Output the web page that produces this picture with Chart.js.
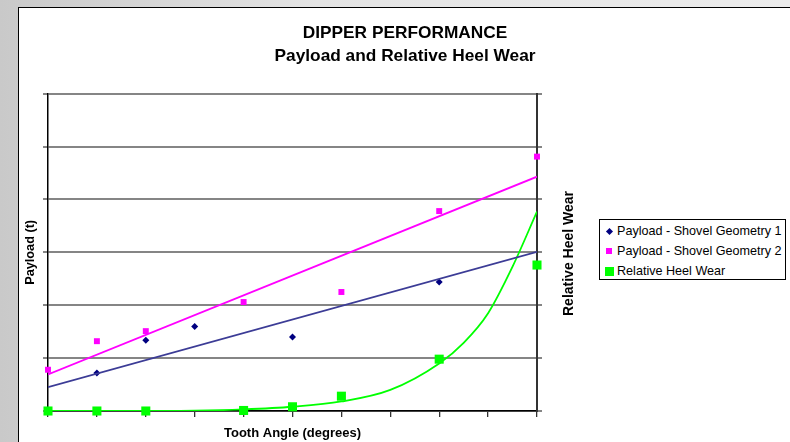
<!DOCTYPE html>
<html>
<head>
<meta charset="utf-8">
<script src="https://cdn.jsdelivr.net/npm/chart.js@4.4.1/dist/chart.umd.min.js"></script>
<style>
  html, body { margin: 0; padding: 0; width: 790px; height: 442px; overflow: hidden; }
  body { background: linear-gradient(to right, #c9c9c9, #e4e4e4 40%, #ececec); position: relative; font-family: Arial, "Liberation Sans", sans-serif; }
  #frame { position: absolute; left: 18px; top: 7px; width: 800px; height: 450px; background: #fff; border: 1px solid #000; }
  #chart { position: absolute; left: 0; top: 0; }
  #legend { position: absolute; left: 599px; top: 219px; width: 185px; height: 59px; border: 1px solid #000; background: #fff; font-size: 12.6px; }
  #legend .row { position: absolute; left: 0; height: 18px; line-height: 18px; white-space: nowrap; }
  #legend .mk { position: absolute; top: 50%; }
  #legend .txt { position: absolute; left: 17px; top: 0; }
</style>
</head>
<body>
<div id="frame"></div>
<canvas id="chart" width="790" height="442"></canvas>
<div id="legend"></div>
<script>
// x positions are the tooth-angle steps (tick index along the axis, labels not shown)
var geo1Steps = [1, 2, 3, 5, 8]
var geo1Payload = [0.72, 1.34, 1.60, 1.40, 2.44]
var geo2Steps = [0, 1, 2, 4, 6, 8, 10]
var geo2Payload = [0.78, 1.32, 1.51, 2.06, 2.25, 3.78, 4.81]
var wearSteps = [0, 1, 2, 4, 5, 6, 8, 10]
var heelWear = [0, 0, 0, 0.01, 0.08, 0.28, 0.98, 2.76]

// trend lines
var geo1TrendSteps = [0, 10]
var geo1Trend = [0.45, 3.01]
var geo2TrendSteps = [0, 10]
var geo2Trend = [0.69, 4.43]
var wearTrendSteps = [0, 1, 2, 3, 4, 5, 6, 7, 8, 8.5, 9, 9.5, 10]
var wearTrend = [0, 0, 0, 0.005, 0.03, 0.08, 0.18, 0.40, 0.90, 1.29, 1.85, 2.73, 3.77]

var yTicks = [0, 1, 2, 3, 4, 5, 6]

var FONT = 'Arial, "Liberation Sans", sans-serif'

function pts(xs, ys) {
    return xs.map(function (x, i) { return { x: x, y: ys[i] } })
}

var rightTitle = {//draws the secondary axis title reading upward
    id: 'rightTitle',
    afterDraw: function (chart) {
        var ctx = chart.ctx
        ctx.save()
        ctx.translate(569, 253.5)
        ctx.rotate(-Math.PI / 2)
        ctx.font = 'bold 14px ' + FONT
        ctx.fillStyle = '#000'
        ctx.textAlign = 'center'
        ctx.textBaseline = 'middle'
        ctx.fillText('Relative Heel Wear', 0, 0)
        ctx.restore()
    }
}

new Chart(document.getElementById('chart'), {
    type: 'scatter',
    data: {
        datasets: [
            { label: 'Payload - Shovel Geometry 1 trend', type: 'line', data: pts(geo1TrendSteps, geo1Trend), borderColor: '#3c3c96', borderWidth: 1.8, pointRadius: 0, fill: false },
            { label: 'Payload - Shovel Geometry 2 trend', type: 'line', data: pts(geo2TrendSteps, geo2Trend), borderColor: '#ff00ff', borderWidth: 1.8, pointRadius: 0, fill: false },
            { label: 'Relative Heel Wear trend', type: 'line', yAxisID: 'y2', data: pts(wearTrendSteps, wearTrend), borderColor: '#00ff00', borderWidth: 1.8, pointRadius: 0, fill: false, cubicInterpolationMode: 'monotone' },
            { label: 'Payload - Shovel Geometry 1', data: pts(geo1Steps, geo1Payload), pointStyle: 'rectRot', pointRadius: 3.5, backgroundColor: '#000080', borderColor: '#000080', borderWidth: 0, clip: false },
            { label: 'Payload - Shovel Geometry 2', data: pts(geo2Steps, geo2Payload), pointStyle: 'rect', pointRadius: 4.2, backgroundColor: '#ff00ff', borderColor: '#ff00ff', borderWidth: 0, clip: false },
            { label: 'Relative Heel Wear', yAxisID: 'y2', data: pts(wearSteps, heelWear), pointStyle: 'rect', pointRadius: 6.4, backgroundColor: '#00ff00', borderColor: '#00ff00', borderWidth: 0, clip: false }
        ]
    },
    options: {
        responsive: false,
        animation: false,
        devicePixelRatio: 1,
        layout: { padding: { left: 20, right: 0, top: 0, bottom: 0 } },
        plugins: {
            legend: { display: false },
            tooltip: { enabled: false },
            title: {
                display: true,
                text: ['DIPPER PERFORMANCE', 'Payload and Relative Heel Wear'],
                color: '#000',
                font: { family: FONT, size: 17.3, weight: 'bold', lineHeight: 1.32 },
                padding: { top: 22, bottom: 26 }
            }
        },
        scales: {
            x: {
                type: 'linear', min: 0, max: 10,
                ticks: { display: false, stepSize: 1 },
                grid: { drawOnChartArea: false, color: '#333', tickLength: 6, lineWidth: 1.3 },
                border: { color: '#000', width: 1.5 },
                title: { display: true, text: 'Tooth Angle (degrees)', color: '#000', font: { family: FONT, size: 13, weight: 'bold' }, padding: { top: 0, bottom: 0.5 } },
                afterFit: function (s) { s.height = 31 }
            },
            y: {
                position: 'left', min: 0, max: 6,
                afterBuildTicks: function (s) { s.ticks = yTicks.map(function (v) { return { value: v } }) },
                ticks: { display: false },
                grid: { color: '#858585', lineWidth: 2, tickLength: 5 },
                border: { color: '#000', width: 1.5 },
                title: { display: true, text: 'Payload (t)', color: '#000', font: { family: FONT, size: 12.7, weight: 'bold' }, padding: { top: 3, bottom: 0 } },
                afterFit: function (s) { s.width = 28 }
            },
            y2: {
                position: 'right', min: 0, max: 6,
                afterBuildTicks: function (s) { s.ticks = yTicks.map(function (v) { return { value: v } }) },
                ticks: { display: false },
                grid: { drawOnChartArea: false, color: '#858585', lineWidth: 2, tickLength: 5 },
                border: { color: '#333', width: 2 },
                afterFit: function (s) { s.width = 253 }
            }
        }
    },
    plugins: [rightTitle]
});

// legend, same entries and markers as the chart
var legendItems = [
    { text: 'Payload - Shovel Geometry 1', color: '#000080', size: 5, rot: true },
    { text: 'Payload - Shovel Geometry 2', color: '#ff00ff', size: 6, rot: false },
    { text: 'Relative Heel Wear', color: '#00ff00', size: 9, rot: false }
]
var legend = document.getElementById('legend')
legendItems.forEach(function (it, i) {
    var row = document.createElement('div')
    row.className = 'row'
    row.style.top = (2 + i * 20) + 'px'
    var mk = document.createElement('span')
    mk.className = 'mk'
    mk.style.width = it.size + 'px'
    mk.style.height = it.size + 'px'
    mk.style.background = it.color
    mk.style.left = (9 - it.size / 2) + 'px'
    mk.style.marginTop = (-it.size / 2) + 'px'
    if (it.rot) mk.style.transform = 'rotate(45deg)'
    var txt = document.createElement('span')
    txt.className = 'txt'
    txt.textContent = it.text
    row.appendChild(mk)
    row.appendChild(txt)
    legend.appendChild(row)
})
</script>
</body>
</html>
